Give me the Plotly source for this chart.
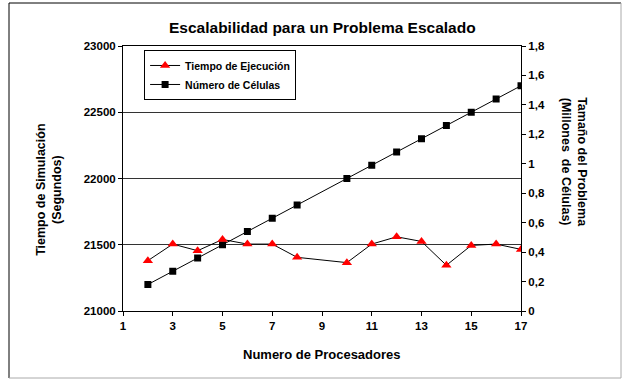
import plotly.graph_objects as go

# Processor counts and measurements
procesadores = [2, 3, 4, 5, 6, 7, 8, 10, 11, 12, 13, 14, 15, 16, 17]
tiempo_ejecucion = [21380, 21505, 21455, 21540, 21505, 21505, 21405, 21365,
                    21505, 21560, 21525, 21345, 21495, 21505, 21465]
numero_celulas = [0.18, 0.27, 0.36, 0.45, 0.54, 0.63, 0.72, 0.90,
                  0.99, 1.08, 1.17, 1.26, 1.35, 1.44, 1.53]

x_ticks = [1, 3, 5, 7, 9, 11, 13, 15, 17]
y_left_ticks = [21000, 21500, 22000, 22500, 23000]
y_left_labels = ["21000", "21500", "22000", "22500", "23000"]
y_right_ticks = [0, 0.2, 0.4, 0.6, 0.8, 1, 1.2, 1.4, 1.6, 1.8]
y_right_labels = ["0", "0,2", "0,4", "0,6", "0,8", "1", "1,2", "1,4", "1,6", "1,8"]

FONT = "Arial, Liberation Sans, sans-serif"
bold = lambda size: dict(family=FONT, size=size, color="black", weight="bold")

fig = go.Figure()

fig.add_trace(go.Scatter(
    x=procesadores, y=numero_celulas, name="Número de Células",
    mode="lines+markers", yaxis="y",
    line=dict(color="black", width=1),
    marker=dict(symbol="square", size=7, color="black"),
))
fig.add_trace(go.Scatter(
    x=procesadores, y=tiempo_ejecucion, name="Tiempo de Ejecución",
    mode="lines+markers", yaxis="y2",
    line=dict(color="black", width=1),
    marker=dict(symbol="triangle-up", size=9, color="red"),
))

fig.update_layout(
    width=622, height=379,
    margin=dict(l=123, r=101, t=46, b=68),
    paper_bgcolor="white", plot_bgcolor="white",
    font=dict(family=FONT, color="black"),
    showlegend=True,
    legend=dict(
        x=0.053, y=0.985, xanchor="left", yanchor="top",
        bgcolor="white", bordercolor="black", borderwidth=1,
        font=bold(10.5), traceorder="reversed", tracegroupgap=0,
    ),
    xaxis=dict(
        range=[1, 17], tickvals=x_ticks, showgrid=False, zeroline=False,
        showline=True, linecolor="black", linewidth=1, mirror=True,
        ticks="outside", ticklen=4, tickcolor="black",
        tickfont=bold(11.5),
    ),
    yaxis=dict(
        range=[0, 1.8], side="right", tickvals=y_right_ticks, ticktext=y_right_labels,
        showgrid=False, zeroline=False,
        showline=True, linecolor="black", linewidth=1,
        ticks="outside", ticklen=4, tickcolor="black",
        tickfont=bold(11.5),
    ),
    yaxis2=dict(
        range=[21000, 23000], side="left", overlaying="y",
        tickvals=y_left_ticks, ticktext=y_left_labels,
        showgrid=True, gridcolor="#333333", gridwidth=1, zeroline=False,
        showline=True, linecolor="black", linewidth=1,
        ticks="outside", ticklen=4, tickcolor="black",
        tickfont=bold(11.5),
    ),
)

# Titles
fig.add_annotation(text="Escalabilidad para un Problema Escalado",
                   xref="paper", yref="paper", x=0.5, y=1.068,
                   xanchor="center", yanchor="middle", showarrow=False,
                   font=bold(15.5))
fig.add_annotation(text="Numero de Procesadores",
                   xref="paper", yref="paper", x=0.5, y=-0.166,
                   xanchor="center", yanchor="middle", showarrow=False,
                   font=bold(13))
fig.add_annotation(text="Tiempo de Simulación<br>(Segundos)",
                   xref="paper", yref="paper", x=-0.186, y=0.457,
                   xanchor="center", yanchor="middle", showarrow=False,
                   textangle=-90, font=bold(12.5))
fig.add_annotation(text="Tamaño del Problema<br>(Millones  de Células)",
                   xref="paper", yref="paper", x=1.133, y=0.562,
                   xanchor="center", yanchor="middle", showarrow=False,
                   textangle=90, font=bold(12.5))

# Chart frame
x_left, x_right = (9 - 123) / 398, (621 - 123) / 398
y_top, y_bottom = (311 - 3) / 265, (311 - 378) / 265
fig.add_shape(type="line", xref="paper", yref="paper",
              x0=x_left, x1=x_right, y0=y_top, y1=y_top,
              line=dict(color="black", width=1))
fig.add_shape(type="line", xref="paper", yref="paper",
              x0=x_left, x1=x_left, y0=y_top, y1=y_bottom,
              line=dict(color="black", width=1))
fig.add_shape(type="line", xref="paper", yref="paper",
              x0=x_left, x1=x_right, y0=y_bottom, y1=y_bottom,
              line=dict(color="#aaaaaa", width=1))
fig.add_shape(type="line", xref="paper", yref="paper",
              x0=x_right, x1=x_right, y0=y_top, y1=y_bottom,
              line=dict(color="#aaaaaa", width=1))

fig.write_html("out.html")
